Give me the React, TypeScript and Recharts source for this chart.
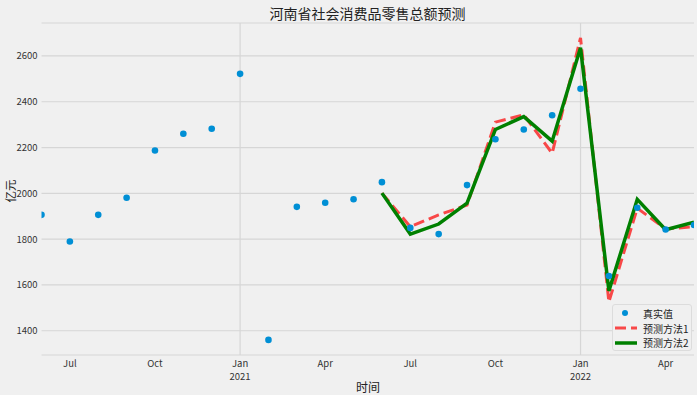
import {
  CartesianGrid,
  ComposedChart,
  Line,
  ReferenceLine,
  XAxis,
  YAxis,
} from "recharts";

// monthly, Jun 2020 .. May 2022
const months = [
  "2020-06", "2020-07", "2020-08", "2020-09", "2020-10", "2020-11", "2020-12",
  "2021-01", "2021-02", "2021-03", "2021-04", "2021-05", "2021-06", "2021-07",
  "2021-08", "2021-09", "2021-10", "2021-11", "2021-12", "2022-01", "2022-02",
  "2022-03", "2022-04", "2022-05",
];
const actual = [
  1906, 1790, 1906, 1981, 2187, 2260, 2282, 2522, 1360, 1941, 1959, 1974,
  2049, 1849, 1822, 2036, 2236, 2279, 2341, 2457, 1639, 1937, 1842, 1862,
];
// forecasts start at Jun 2021 (index 12)
const method1 = [2001, 1854, 1906, 1949, 2311, 2343, 2175, 2679, 1526, 1935, 1845, 1854];
const method2 = [2001, 1822, 1866, 1957, 2279, 2335, 2228, 2636, 1574, 1974, 1841, 1874];
const forecastStart = 12;

const tickIdx = [1, 4, 7, 10, 13, 16, 19, 22];
const tickMonths = ["Jul", "Oct", "Jan", "Apr", "Jul", "Oct", "Jan", "Apr"];
const tickYears = ["", "", "2021", "", "", "", "2022", ""];
const yTicks = [1400, 1600, 1800, 2000, 2200, 2400, 2600];
const yearLines = [7, 19];

const rows = months.map((m, i) => ({
  idx: i,
  month: m,
  actual: actual[i],
  m1: i >= forecastStart ? method1[i - forecastStart] : null,
  m2: i >= forecastStart ? method2[i - forecastStart] : null,
}));

const FONT = '"Noto Sans CJK SC", "Noto Sans", sans-serif';
const BG = "#f0f0f0";
const BLUE = "#008fd5";
const RED = "#f84848";
const GREEN = "#008000";

function XTick(props: any) {
  const { x, y, payload } = props;
  const k = tickIdx.indexOf(payload.value);
  return (
    <g>
      <text x={x} y={y + 3.5} textAnchor="middle" fontSize={9.5} fill="#333" fontFamily={FONT}>
        {tickMonths[k]}
      </text>
      {tickYears[k] && (
        <text x={x} y={y + 17} textAnchor="middle" fontSize={9.5} fill="#333" fontFamily={FONT}>
          {tickYears[k]}
        </text>
      )}
    </g>
  );
}

function YTick(props: any) {
  const { y, payload } = props;
  return (
    <text x={37.5} y={y + 3.5} textAnchor="end" fontSize={9.5} fill="#333" fontFamily={FONT}>
      {payload.value}
    </text>
  );
}

function LegendBox() {
  const items = [
    { name: "真实值", kind: "dot" },
    { name: "预测方法1", kind: "dash" },
    { name: "预测方法2", kind: "solid" },
  ];
  return (
    <div
      style={{
        position: "absolute",
        left: 612,
        top: 304,
        width: 80,
        height: 47,
        border: "1px solid #dcdcdc",
        borderRadius: 3,
        background: BG,
        fontFamily: FONT,
        fontSize: 10,
        color: "#222",
        boxSizing: "border-box",
        paddingTop: 1,
      }}
    >
      {items.map((it) => (
        <div key={it.name} style={{ display: "flex", alignItems: "center", height: 14.7 }}>
          <svg width={28} height={10} style={{ flex: "none" }}>
            {it.kind === "dot" && <circle cx={12} cy={5} r={3} fill={BLUE} />}
            {it.kind === "dash" && (
              <line x1={2} y1={5} x2={24} y2={5} stroke={RED} strokeWidth={3} strokeDasharray="11 5" />
            )}
            {it.kind === "solid" && <line x1={2} y1={5} x2={24} y2={5} stroke={GREEN} strokeWidth={3.5} />}
          </svg>
          <span style={{ marginLeft: 2, whiteSpace: "nowrap" }}>{it.name}</span>
        </div>
      ))}
    </div>
  );
}

export default function App() {
  return (
    <div style={{ position: "absolute", left: 0, top: 0, width: 697, height: 395, background: BG, overflow: "hidden" }}>
      <div
        style={{
          position: "absolute",
          left: 41,
          width: 653,
          top: 3,
          textAlign: "center",
          fontFamily: FONT,
          fontSize: 14,
          color: "#222",
        }}
      >
        河南省社会消费品零售总额预测
      </div>
      <div
        style={{
          position: "absolute",
          left: -2,
          top: 183,
          width: 24,
          height: 16,
          lineHeight: "16px",
          textAlign: "center",
          transform: "rotate(-90deg)",
          transformOrigin: "center",
          fontFamily: FONT,
          fontSize: 11.5,
          color: "#222",
        }}
      >
        亿元
      </div>
      <div
        style={{
          position: "absolute",
          left: 356,
          top: 378,
          fontFamily: FONT,
          fontSize: 12,
          color: "#222",
        }}
      >
        时间
      </div>
      <ComposedChart width={697} height={395} data={rows} margin={{ top: 23, right: 3, bottom: 0, left: 0 }}>
        <CartesianGrid vertical={false} stroke="#d6d6d6" strokeWidth={1.2} />
        {yearLines.map((v) => (
          <ReferenceLine key={v} x={v} stroke="#d6d6d6" strokeWidth={1.2} />
        ))}
        <XAxis
          dataKey="idx"
          type="number"
          domain={[0, 23]}
          allowDataOverflow
          ticks={tickIdx}
          tick={<XTick />}
          axisLine={false}
          tickLine={false}
          height={40}
          interval={0}
        />
        <YAxis
          type="number"
          domain={[1294, 2744]}
          ticks={yTicks}
          tick={<YTick />}
          axisLine={false}
          tickLine={false}
          width={41.5}
        />
        <Line
          dataKey="actual"
          name="真实值"
          stroke="none"
          dot={{ r: 3.3, fill: BLUE, stroke: "none" }}
          activeDot={false}
          isAnimationActive={false}
        />
        <Line
          dataKey="m1"
          name="预测方法1"
          stroke={RED}
          strokeWidth={3}
          strokeDasharray="11 5"
          dot={false}
          activeDot={false}
          isAnimationActive={false}
        />
        <Line
          dataKey="m2"
          name="预测方法2"
          stroke={GREEN}
          strokeWidth={3.5}
          dot={false}
          activeDot={false}
          isAnimationActive={false}
        />
      </ComposedChart>
      <LegendBox />
    </div>
  );
}
